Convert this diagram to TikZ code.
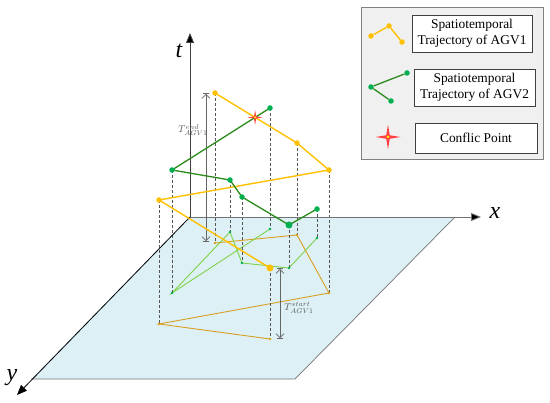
\documentclass[tikz,border=0pt]{standalone}
\usepackage{fontspec}
\setmainfont{Liberation Serif}
\usetikzlibrary{arrows.meta,shapes.geometric}

\definecolor{agvyellow}{HTML}{FFC000}
\definecolor{agvorange}{HTML}{D9A021}
\definecolor{agvdkgreen}{HTML}{2A8A1A}
\definecolor{agvgreen}{HTML}{00B050}
\definecolor{agvltgreen}{HTML}{7ED34A}
\definecolor{planeblue}{HTML}{DDF0F5}
\definecolor{dropgray}{HTML}{555555}

\tikzset{
    ydot/.style={circle, fill=agvyellow, inner sep=0pt, minimum size=5.5pt},
    gdot/.style={circle, fill=agvgreen, inner sep=0pt, minimum size=5.5pt},
    pydot/.style={circle, fill=agvorange, inner sep=0pt, minimum size=2.6pt},
    pgdot/.style={circle, fill=agvgreen, inner sep=0pt, minimum size=2.6pt},
    drop/.style={dropgray, line width=0.75pt, dash pattern=on 3pt off 2pt},
    spark/.style={star, star points=4, star point ratio=5, fill=red!75!white, inner sep=0pt},
    legbox/.style={draw=black!75, fill=white, line width=0.7pt, align=center,
        font=\fontsize{13.4}{15.5}\selectfont, inner sep=0pt},
    axlabel/.style={font=\fontsize{24}{24}\selectfont\itshape},
    tlabel/.style={text=black!65, font=\fontsize{10}{10}\selectfont}
}

\begin{document}
\begin{tikzpicture}[x=1pt, y=-1pt]
    \useasboundingbox (0,0) rectangle (550,403);

    % the plane
    \coordinate (o) at (190,217);
    \coordinate (c1) at (455,217);
    \coordinate (c2) at (295,379);
    \coordinate (c3) at (31,379);
    \fill[planeblue] (o) -- (c1) -- (c2) -- (c3) -- cycle;
    \draw[black!55, line width=0.7pt] (c1) -- (c2) -- (c3);

    % points in space and on the plane
    \coordinate (a1) at (215,93);   \coordinate (pa1) at (215,243);
    \coordinate (a2) at (297,143);  \coordinate (pa2) at (297,235);
    \coordinate (a3) at (329,170);  \coordinate (pa3) at (329,293);
    \coordinate (a4) at (159,200);  \coordinate (pa4) at (159,324);
    \coordinate (a5) at (270,268);  \coordinate (pa5) at (270,339);

    \coordinate (b1) at (270,108);  \coordinate (pb1) at (270,229);
    \coordinate (b2) at (172,170);  \coordinate (pb2) at (172,293);
    \coordinate (b3) at (230,180);  \coordinate (pb3) at (230,232);
    \coordinate (b4) at (242,197);  \coordinate (pb4) at (242,263);
    \coordinate (b5) at (289,225);  \coordinate (pb5) at (289,268);
    \coordinate (b6) at (317,209);  \coordinate (pb6) at (317,238);

    % paths on the plane
    \draw[agvorange, line width=0.9pt] (pa1) -- (pa2) -- (pa3) -- (pa4) -- (pa5);
    \draw[agvltgreen, line width=0.9pt] (pb1) -- (pb2) -- (pb3) -- (pb4) -- (pb5) -- (pb6);

    % drop lines
    \foreach \p in {a1,a2,a3,a4,a5,b1,b2,b3,b4,b5,b6}
        \draw[drop] (\p) -- (p\p);

    % axes
    \coordinate (ttip) at (190,33);
    \coordinate (xtip) at (481,217);
    \coordinate (ytip) at (17,395);
    \draw[black!75, line width=0.8pt, -{Triangle[length=10pt, width=8pt, fill=black]}] (o) -- (ttip);
    \draw[black!55, line width=0.8pt, -{Triangle[length=10pt, width=8pt, fill=black]}] (o) -- (xtip);
    \draw[black, line width=0.8pt, -{Triangle[length=10pt, width=8pt]}] (o) -- (ytip);
    \node[axlabel] (tlab) at (179,51) {t};
    \node[axlabel] (xlab) at (495,213) {x};
    \node[axlabel] (ylab) at (12,378) {y};

    % time spans
    \coordinate (te1) at (206,93);
    \coordinate (te2) at (206,242);
    \coordinate (ts1) at (280,268);
    \coordinate (ts2) at (280,339);
    \draw[black!60, line width=0.8pt, >={Straight Barb[length=4pt, width=8pt]},
        |<->|] (te1) -- (te2);
    \draw[black!60, line width=0.8pt, >={Straight Barb[length=4pt, width=8pt]},
        |<->|] (ts1) -- (ts2);
    \node[tlabel] (tend) at (193,130) {$T^{end}_{AGV1}$};
    \node[tlabel] (tstart) at (299,308) {$T^{start}_{AGV1}$};

    % trajectories in space
    \draw[agvyellow, line width=1.4pt] (a1) -- (a2) -- (a3) -- (a4) -- (a5);
    \draw[agvdkgreen, line width=1.3pt] (b1) -- (b2) -- (b3) -- (b4) -- (b5) -- (b6);

    \foreach \p in {a1,a2,a3,a4}
        \node[ydot] (d\p) at (\p) {};
    \node[ydot, minimum size=7pt] (da5) at (a5) {};
    \foreach \p in {b1,b2,b3,b4,b6}
        \node[gdot] (d\p) at (\p) {};
    \node[gdot, minimum size=7pt] (db5) at (b5) {};
    \foreach \p in {pa1,pa2,pa3,pa4,pa5}
        \node[pydot] (d\p) at (\p) {};
    \foreach \p in {pb1,pb2,pb3,pb4,pb5,pb6}
        \node[pgdot] (d\p) at (\p) {};

    \node[spark, minimum size=15pt] (conf) at (intersection of a1--a2 and b1--b2) {};
    \node[circle, fill=yellow, inner sep=0pt, minimum size=2.2pt] (confc) at (conf) {};

    % legend
    \draw[black!50, fill=black!6, line width=0.7pt] (361,7) rectangle (543,159);
    \node[legbox, minimum width=120pt, minimum height=37pt] (leg1) at (472,33.5)
        {Spatiotemporal\\Trajectory of AGV1};
    \node[legbox, minimum width=121pt, minimum height=37pt] (leg2) at (474.5,87.5)
        {Spatiotemporal\\Trajectory of AGV2};
    \node[legbox, minimum width=122pt, minimum height=30pt] (leg3) at (476,138)
        {Conflic Point};

    \node[ydot] (ly1) at (371,36) {};
    \node[ydot] (ly2) at (389,26) {};
    \node[ydot] (ly3) at (402,42) {};
    \draw[agvyellow, line width=1.4pt] (ly1) -- (ly2) -- (ly3);
    \node[gdot] (lg1) at (407,73) {};
    \node[gdot] (lg2) at (371,87) {};
    \node[gdot] (lg3) at (391,101) {};
    \draw[agvdkgreen, line width=1.3pt] (lg1) -- (lg2) -- (lg3);
    \node[spark, minimum size=25pt] (lstar) at (388,137) {};
    \node[circle, fill=yellow, inner sep=0pt, minimum size=3pt] (lstarc) at (lstar) {};
\end{tikzpicture}
\end{document}
